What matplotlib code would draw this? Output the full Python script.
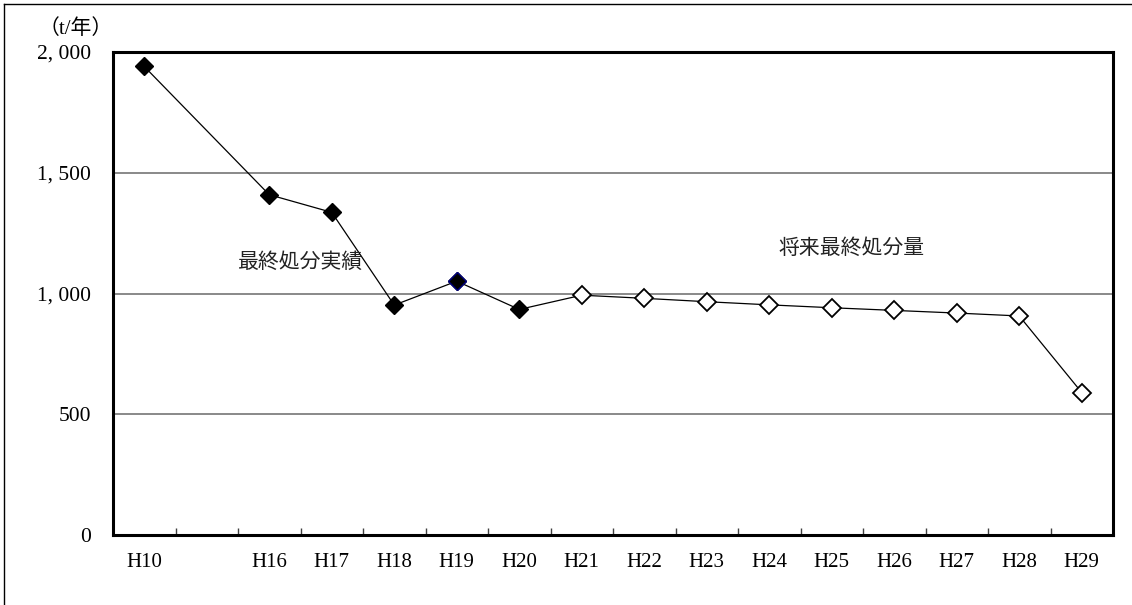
import matplotlib.pyplot as plt
from matplotlib.lines import Line2D

plt.rcParams['font.family'] = ['Liberation Serif', 'Noto Sans CJK JP']

# 年度ラベル (H10 の次は空欄の区分)
categories = ['H10', '', 'H16', 'H17', 'H18', 'H19', 'H20', 'H21', 'H22',
              'H23', 'H24', 'H25', 'H26', 'H27', 'H28', 'H29']

# 最終処分実績 (t/年)
actual_years = ['H10', 'H16', 'H17', 'H18', 'H19', 'H20']
actual_values = [1940, 1409, 1336, 952, 1051, 934]

# 将来最終処分量 (t/年)
future_years = ['H21', 'H22', 'H23', 'H24', 'H25', 'H26', 'H27', 'H28', 'H29']
future_values = [993, 980, 966, 953, 941, 930, 919, 907, 590]

y_ticks = [0, 500, 1000, 1500, 2000]

W, H = 1132, 605
fig = plt.figure(figsize=(W / 100, H / 100), dpi=100)
ax = fig.add_axes([113 / W, 1 - 535 / H, 1000 / W, 483 / H])

pos = {c: i for i, c in enumerate(categories) if c}
x_act = [pos[c] for c in actual_years]
x_fut = [pos[c] for c in future_years]

# 実績から将来へ一本の折れ線でつなぐ
ax.plot(x_act + x_fut, actual_values + future_values, color='black', lw=0.9, zorder=2)

ms = 9
ax.plot(x_act, actual_values, ls='none', marker='D', ms=ms, mfc='black',
        mec='black', mew=1, zorder=3)
# H19 は枠線が紺色
i19 = actual_years.index('H19')
ax.plot([x_act[i19]], [actual_values[i19]], ls='none', marker='D', ms=ms,
        mfc='black', mec='#000080', mew=1, zorder=4)
ax.plot(x_fut, future_values, ls='none', marker='D', ms=ms, mfc='white',
        mec='black', mew=1.3, zorder=3)

ax.set_xlim(-0.5, len(categories) - 0.5)
ax.set_ylim(0, 2000)

# 目盛線
for v in y_ticks[1:-1]:
    ax.axhline(v, color='#808080', lw=1.3, zorder=1)

ax.set_yticks(y_ticks)
ax.set_yticklabels([f'{v:,}'.replace(',', ', ') for v in y_ticks], fontsize=15.5)
ax.tick_params(axis='y', length=0, pad=16)

# 区分の境界に内向きの小さな目盛
ax.set_xticks([i + 0.5 for i in range(len(categories) - 1)])
ax.set_xticklabels([])
ax.tick_params(axis='x', direction='in', length=5, width=1, color='#404040')
for i, c in enumerate(categories):
    ax.text(i, -0.057, c, transform=ax.get_xaxis_transform(), ha='center',
            va='center', fontsize=15)

for s in ax.spines.values():
    s.set_linewidth(2.2)
    s.set_color('black')

ax.text(301 / W, 1 - 262 / H, '最終処分実績', transform=fig.transFigure,
        ha='center', va='center', fontsize=15, family=['Noto Sans CJK JP'],
        color='#222222')
ax.text(852 / W, 1 - 248 / H, '将来最終処分量', transform=fig.transFigure,
        ha='center', va='center', fontsize=15, family=['Noto Sans CJK JP'],
        color='#222222')

fig.text(76 / W, 1 - 29 / H, '（t/年）', ha='center', va='center', fontsize=15)

# 外枠 (上辺と左辺)
fig.add_artist(Line2D([4 / W, 1], [1 - 4 / H, 1 - 4 / H], color='black', lw=1,
                      transform=fig.transFigure))
fig.add_artist(Line2D([4 / W, 4 / W], [0, 1 - 4 / H], color='black', lw=1,
                      transform=fig.transFigure))

fig.savefig('out.png', dpi=100, facecolor='white')
